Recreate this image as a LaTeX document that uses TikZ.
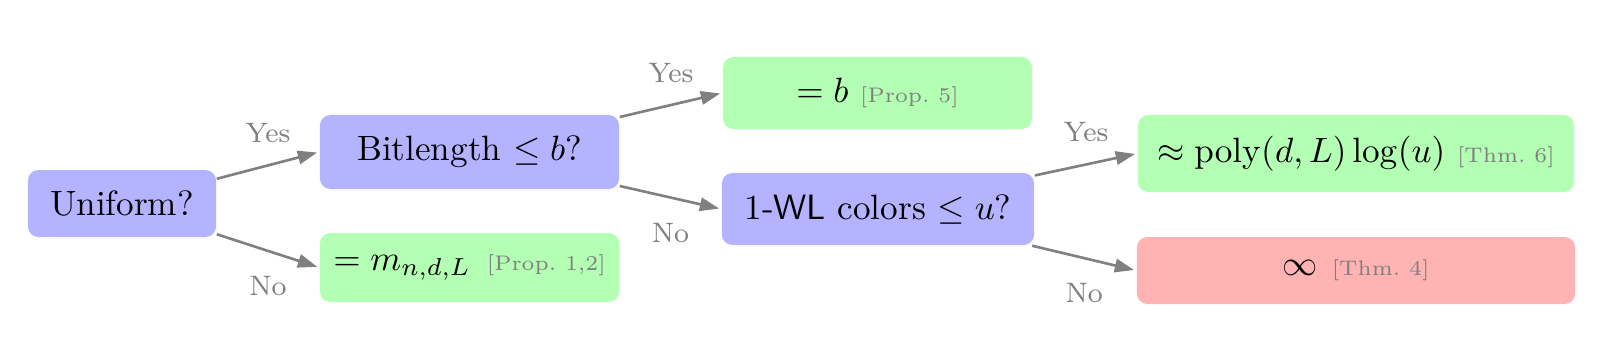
\documentclass[tikz,border=0pt]{standalone}
\usetikzlibrary{arrows.meta}
\definecolor{qblue}{HTML}{B3B3FF}
\definecolor{ggreen}{HTML}{B3FFB3}
\definecolor{rred}{HTML}{FFB3B3}
\definecolor{labgray}{HTML}{808080}
\newcommand{\mycite}[1]{{\fontsize{6pt}{7pt}\selectfont\color{labgray}[#1]}}
\begin{document}
\begin{tikzpicture}[x=0.01cm,y=-0.01cm,
  box/.style={rounded corners=3pt, inner sep=0pt, align=center, font=\normalsize},
  qbox/.style={box, fill=qblue},
  gbox/.style={box, fill=ggreen},
  rbox/.style={box, fill=rred},
  conn/.style={draw=labgray, line width=0.75pt, shorten >=0.6pt, -{Triangle[length=5.5pt,width=3.8pt]}},
  yeslab/.style={text=labgray, font=\footnotesize, midway, yshift=0.32cm},
  nolab/.style={text=labgray, font=\footnotesize, midway, yshift=-0.35cm}]
\useasboundingbox (0,0) rectangle (1600,341);
\node[qbox, minimum width=1.88cm, minimum height=0.67cm] (U) at (122,203.5) {Uniform?};
\node[qbox, minimum width=2.99cm, minimum height=0.74cm] (B) at (469.5,152) {Bitlength $\leq b$?};
\node[gbox, minimum width=2.99cm, minimum height=0.69cm] (M) at (469.5,267.5) {$= m_{n,d,L}$\hspace{0.45em}\mycite{Prop.~1,2}};
\node[gbox, minimum width=3.09cm, minimum height=0.72cm] (Bb) at (877.5,93) {$= b$ \mycite{Prop.~5}};
\node[qbox, minimum width=3.12cm, minimum height=0.72cm] (W) at (878,209) {1-\textsf{WL} colors $\leq u$?};
\node[gbox, minimum width=4.36cm, minimum height=0.77cm] (P) at (1356,153.5) {$\approx \mathrm{poly}(d,L)\log(u)$ \mycite{Thm.~6}};
\node[rbox, minimum width=4.38cm, minimum height=0.67cm] (I) at (1356,270.5) {$\infty$\hspace{0.4em}\mycite{Thm.~4}};
\draw[conn] (U) -- (B.west) node[yeslab] {Yes};
\draw[conn] (U) -- (M.west) node[nolab] {No};
\draw[conn] (B) -- (Bb.west) node[yeslab] {Yes};
\draw[conn] (B) -- (W.west) node[nolab] {No};
\draw[conn] (W) -- (P.west) node[yeslab] {Yes};
\draw[conn] (W) -- (I.west) node[nolab] {No};
\end{tikzpicture}
\end{document}
